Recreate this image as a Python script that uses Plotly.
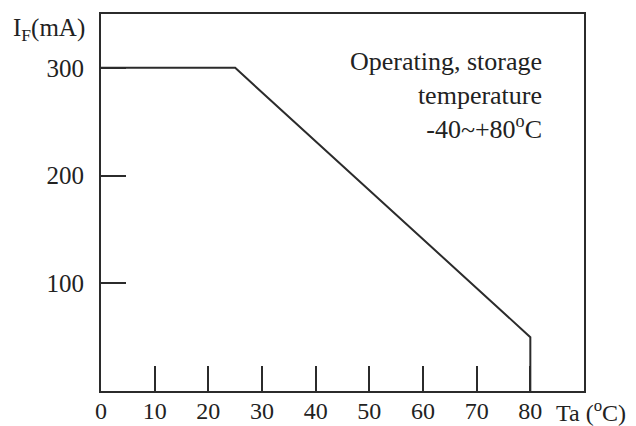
import plotly.graph_objects as go

# Data
temp_c = [0, 25, 80, 80]
current_ma = [300, 300, 50, 0]
x_ticks = [0, 10, 20, 30, 40, 50, 60, 70, 80]
y_ticks = [100, 200, 300]

FONT = "Liberation Serif"
DARK = "#2b2b2b"
TXT = "#222222"

fig = go.Figure()
fig.add_trace(go.Scatter(x=temp_c, y=current_ma, mode="lines",
                         line=dict(color=DARK, width=2), showlegend=False,
                         hoverinfo="skip", cliponaxis=False))

OFF = 7  # page offset of the plot div
W, H = 636 - OFF, 426 - OFF
L, R, T, B = 100 - OFF, 53, 13 - OFF, 36
fig.update_layout(
    width=W, height=H,
    margin=dict(l=L, r=R, t=T, b=B, autoexpand=False),
    paper_bgcolor="white", plot_bgcolor="white",
    font=dict(family=FONT, size=24, color=TXT),
    xaxis=dict(range=[0, 90], tickvals=x_ticks, ticktext=[str(v) for v in x_ticks],
               ticks="inside", ticklen=25, tickwidth=2, tickcolor=DARK,
               showline=True, linewidth=2, linecolor=DARK, mirror=True,
               showgrid=False, zeroline=False, fixedrange=True, automargin=False,
               ticklabelstandoff=-3,
               tickfont=dict(family=FONT, size=24, color=TXT)),
    yaxis=dict(range=[0, 350], tickvals=y_ticks, ticktext=[str(v) for v in y_ticks],
               ticks="inside", ticklen=25, tickwidth=2, tickcolor=DARK,
               showline=True, linewidth=2, linecolor=DARK, mirror=True,
               showgrid=False, zeroline=False, fixedrange=True, automargin=False,
               ticklabelstandoff=10,
               tickfont=dict(family=FONT, size=25, color=TXT)),
)

pw, ph = W - L - R, H - T - B
def px(xp): return (xp - OFF - L) / pw
def py(yp): return (H - B - (yp - OFF)) / ph

fig.add_annotation(xref="paper", yref="paper", x=px(86), y=py(28),
                   xanchor="right", yanchor="middle", showarrow=False,
                   text="I<sub>F</sub>(mA)", font=dict(family=FONT, size=25, color=TXT))
fig.add_annotation(xref="paper", yref="paper", x=px(553), y=py(410),
                   xanchor="left", yanchor="middle", showarrow=False,
                   text="Ta (<sup>o</sup>C)", font=dict(family=FONT, size=24, color=TXT))
fig.add_annotation(xref="paper", yref="paper", x=px(543), y=py(44),
                   xanchor="right", yanchor="top", showarrow=False, align="right",
                   text="Operating, storage<br>temperature<br>-40~+80<sup>o</sup>C",
                   font=dict(family=FONT, size=26, color=TXT))

fig.write_html("out.html")
